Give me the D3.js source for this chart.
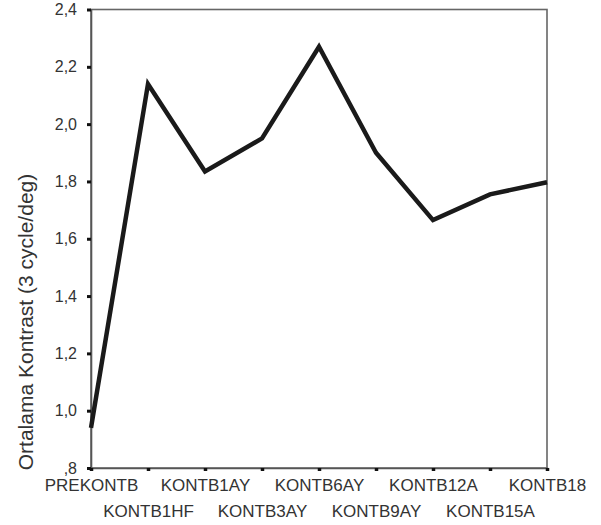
<!DOCTYPE html>
<html>
<head>
<meta charset="utf-8">
<script src="https://d3js.org/d3.v7.min.js"></script>
<style>
  body { margin: 0; background: #fff; }
  svg { display: block; }
  text { font-family: "Liberation Sans", Arial, sans-serif; fill: #333; }
</style>
</head>
<body>
<svg id="chart" width="601" height="525"></svg>
<script>
const categories = ["PREKONTB","KONTB1HF","KONTB1AY","KONTB3AY","KONTB6AY","KONTB9AY","KONTB12A","KONTB15A","KONTB18"];
const values = [0.94, 2.14, 1.835, 1.95, 2.27, 1.90, 1.665, 1.755, 1.797];
const yTicks = [0.8, 1.0, 1.2, 1.4, 1.6, 1.8, 2.0, 2.2, 2.4];
const yTickLabels = [",8", "1,0", "1,2", "1,4", "1,6", "1,8", "2,0", "2,2", "2,4"];
const yTitle = "Ortalama Kontrast (3 cycle/deg)";

const svg = d3.select("#chart");
const pLeft = 91, pRight = 547, pTop = 9.5, pBottom = 468;

const x = d3.scalePoint().domain(categories).range([pLeft, pRight]);
const y = d3.scaleLinear().domain([0.8, 2.4]).range([pBottom, pTop]);

// frame
svg.append("rect")
  .attr("x", pLeft).attr("y", pTop)
  .attr("width", pRight - pLeft).attr("height", pBottom - pTop)
  .attr("fill", "none").attr("stroke", "#666").attr("stroke-width", 1.6);

// y axis
const yAxis = d3.axisLeft(y).tickValues(yTicks)
  .tickFormat((d, i) => yTickLabels[i]).tickSize(4).tickPadding(10);
const gy = svg.append("g").attr("transform", `translate(${pLeft},0)`).call(yAxis);
gy.select(".domain").attr("stroke", "#555").attr("stroke-width", 1.6);
gy.selectAll(".tick line").attr("stroke", "#111").attr("stroke-width", 3);
gy.selectAll(".tick text").style("font-size", "16px").attr("fill", "#333")
  .style("font-family", "Liberation Sans, Arial, sans-serif");

// x axis
const xAxis = d3.axisBottom(x).tickSize(3).tickPadding(0);
const gx = svg.append("g").attr("transform", `translate(0,${pBottom})`).call(xAxis);
gx.select(".domain").attr("stroke", "#555").attr("stroke-width", 1.6);
gx.selectAll(".tick line").attr("stroke", "#111").attr("stroke-width", 3.5);
gx.selectAll(".tick text")
  .style("font-size", "17px").attr("fill", "#333")
  .style("font-family", "Liberation Sans, Arial, sans-serif")
  .attr("dy", null)
  .attr("y", (d, i) => i % 2 === 0 ? 23 : 49);

// y title
svg.append("text")
  .attr("transform", `translate(33,322) rotate(-90)`)
  .attr("text-anchor", "middle")
  .style("font-size", "21px")
  .text(yTitle);

// line
const line = d3.line().x((d, i) => x(categories[i])).y(d => y(d));
svg.append("path")
  .datum(values)
  .attr("d", line)
  .attr("fill", "none")
  .attr("stroke", "#1a1a1a")
  .attr("stroke-width", 4.5)
  .attr("stroke-linejoin", "miter");
</script>
</body>
</html>
